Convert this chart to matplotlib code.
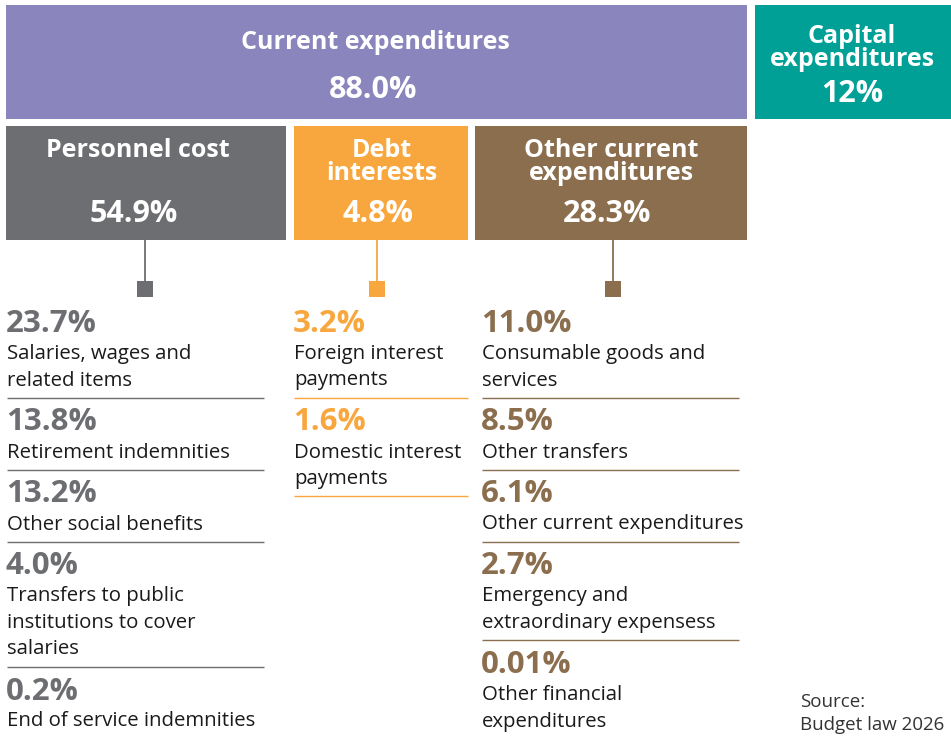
import matplotlib
matplotlib.use("Agg")
import matplotlib.pyplot as plt
from matplotlib.patches import Rectangle

# ---------------- data ----------------
top_labels = ["Current expenditures", "Capital\nexpenditures"]
top_values = ["88.0%", "12%"]

mid_labels = ["Personnel cost", "Debt\ninterests", "Other current\nexpenditures"]
mid_values = ["54.9%", "4.8%", "28.3%"]

personnel_items = ["Salaries, wages and\nrelated items", "Retirement indemnities",
                   "Other social benefits", "Transfers to public\ninstitutions to cover\nsalaries",
                   "End of service indemnities"]
personnel_values = ["23.7%", "13.8%", "13.2%", "4.0%", "0.2%"]

debt_items = ["Foreign interest\npayments", "Domestic interest\npayments"]
debt_values = ["3.2%", "1.6%"]

other_items = ["Consumable goods and\nservices", "Other transfers", "Other current expenditures",
               "Emergency and\nextraordinary expensess", "Other financial\nexpenditures"]
other_values = ["11.0%", "8.5%", "6.1%", "2.7%", "0.01%"]

source_lines = ["Source:", "Budget law 2026"]

# ---------------- style ----------------
PURPLE = "#8A85BD"
TEAL = "#00A096"
GRAY = "#6D6E71"
ORANGE = "#F8A73F"
BROWN = "#8B6E4E"
FONT = "Open Sans"

plt.rcParams['font.family'] = [FONT, 'DejaVu Sans']

fig = plt.figure(figsize=(9.51, 7.36), dpi=100)
ax = fig.add_axes([0, 0, 1, 1])
ax.set_xlim(0, 951)
ax.set_ylim(736, 0)
ax.axis('off')


def box(x0, x1, y0, y1, color):
    ax.add_patch(Rectangle((x0, y0), x1 - x0, y1 - y0, facecolor=color, edgecolor='none'))


def lines_text(x, baselines, text, **kw):
    for yb, line in zip(baselines, text.split("\n")):
        ax.text(x, yb, line, va='baseline', **kw)


TITLE_FS = 18
BOXPCT_FS = 22

# top row
box(6, 747, 5, 119, PURPLE)
box(755, 951, 5, 119, TEAL)
lines_text(375, [49], top_labels[0], ha='center', color='white', fontsize=TITLE_FS, fontweight='bold')
lines_text(373, [98], top_values[0], ha='center', color='white', fontsize=BOXPCT_FS, fontweight='bold')
lines_text(852, [43, 66], top_labels[1], ha='center', color='white', fontsize=TITLE_FS, fontweight='bold')
lines_text(852, [102], top_values[1], ha='center', color='white', fontsize=BOXPCT_FS, fontweight='bold')

# middle row
mid_boxes = [(6, 286, GRAY), (294, 468, ORANGE), (475, 747, BROWN)]
mid_centers = [138, 382, 611]
for (x0, x1, c), cx, lab, val in zip(mid_boxes, mid_centers, mid_labels, mid_values):
    box(x0, x1, 126, 240, c)
    n = len(lab.split("\n"))
    bl = [157] if n == 1 else [157, 180]
    lines_text(cx, bl, lab, ha='center', color='white', fontsize=TITLE_FS, fontweight='bold')
    lines_text(cx - 4, [222], val, ha='center', color='white', fontsize=BOXPCT_FS, fontweight='bold')

# connectors
conn_x = [145, 377, 613]
for cx, (_, _, c) in zip(conn_x, mid_boxes):
    ax.plot([cx, cx], [240, 282], color=c, lw=1.3, solid_capstyle='butt')
    ax.add_patch(Rectangle((cx - 8, 281), 16, 16, facecolor=c, edgecolor='none'))

# columns
columns = [
    (7, 264, GRAY, personnel_items, personnel_values),
    (294, 468, ORANGE, debt_items, debt_values),
    (482, 739, BROWN, other_items, other_values),
]
for x0, x1, c, items, vals in columns:
    y = 332
    for i, (it, v) in enumerate(zip(items, vals)):
        ax.text(x0 - 1, y, v, va='baseline', ha='left', color=c, fontsize=22.5, fontweight='bold')
        lines = it.split("\n")
        bls = [y + 27 + 26.5 * k for k in range(len(lines))]
        lines_text(x0, bls, it, ha='left', color='#1a1a1a', fontsize=14.7)
        last = bls[-1]
        if i < len(items) - 1 or c == ORANGE:
            sep = last + 12
            ax.plot([x0, x1], [sep, sep], color=c, lw=1.0, solid_capstyle='butt')
            y = sep + 33

# source
lines_text(800, [707, 730], "\n".join(source_lines), ha='left', color='#333333', fontsize=13.5)

fig.savefig("out.png", dpi=100)
